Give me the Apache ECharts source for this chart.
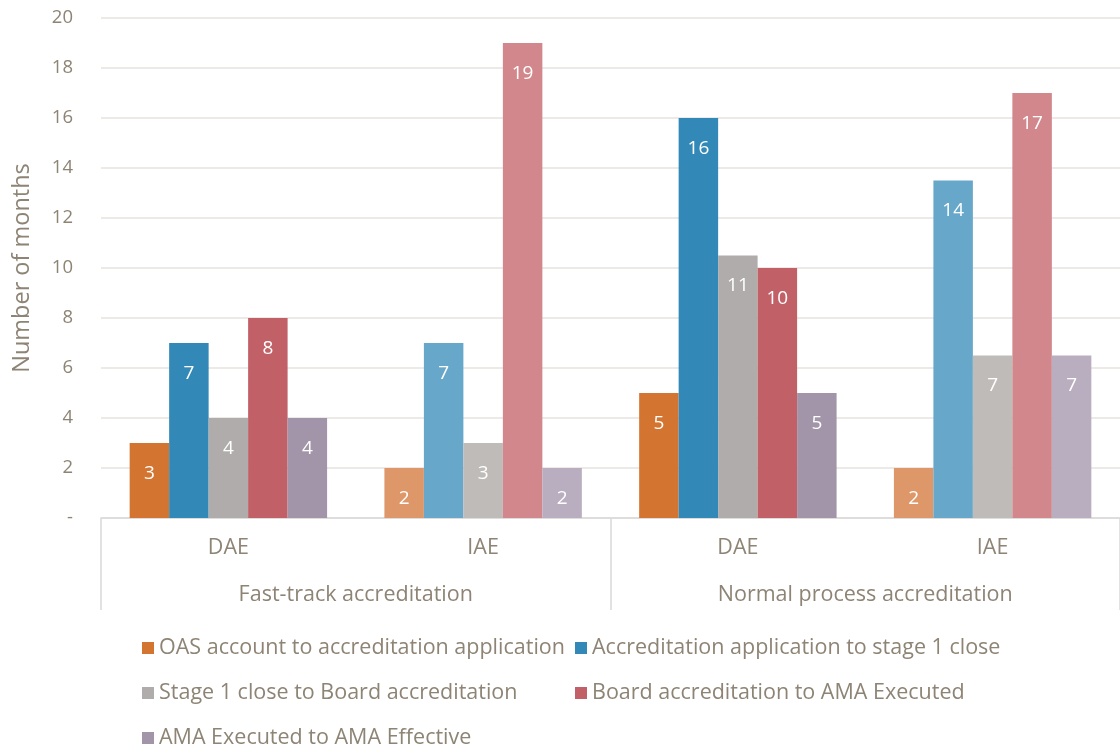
<!DOCTYPE html>
<html>
<head>
<meta charset="utf-8">
<script src="https://cdn.jsdelivr.net/npm/echarts@6/dist/echarts.min.js"></script>
<style>html,body{margin:0;padding:0;background:#fff;}#c{width:1120px;height:747px;}</style>
</head>
<body>
<div id="c"></div>
<script>
const groups = ['Fast-track accreditation', 'Normal process accreditation'];
const categories = ['DAE', 'IAE', 'DAE', 'IAE'];
const seriesNames = [
  'OAS account to accreditation application',
  'Accreditation application to stage 1 close',
  'Stage 1 close to Board accreditation',
  'Board accreditation to AMA Executed',
  'AMA Executed to AMA Effective'
];
const oasToApplication = [3, 2, 5, 2];
const applicationToStage1 = [7, 7, 16, 13.5];
const stage1ToBoard = [4, 3, 10.5, 6.5];
const boardToAmaExecuted = [8, 19, 10, 17];
const amaExecutedToEffective = [4, 2, 5, 6.5];
const yTicks = ['-', '2', '4', '6', '8', '10', '12', '14', '16', '18', '20'];

const seriesValues = [oasToApplication, applicationToStage1, stage1ToBoard, boardToAmaExecuted, amaExecutedToEffective];
const daeColors = ['#D37530', '#3288B7', '#AFACAB', '#C26068', '#A295A9'];
const iaeColors = ['#DE9769', '#67A7C9', '#BFBBB9', '#D1878B', '#B9AEBF'];
const textColor = '#8E8475';
const fontFamily = '"Open Sans", Lato, sans-serif';

const chart = echarts.init(document.getElementById('c'));
chart.setOption({
  animation: false,
  textStyle: { fontFamily: fontFamily },
  grid: { left: 101, right: 0, top: 18, bottom: 229, containLabel: false, outerBoundsMode: 'none' },
  legend: {
    data: seriesNames,
    left: 137,
    top: 623,
    width: 900,
    itemWidth: 12,
    itemHeight: 12,
    itemGap: 5,
    icon: 'rect',
    textStyle: { color: textColor, fontSize: 21.5, fontFamily: fontFamily, width: 411, lineHeight: 40, overflow: 'none' }
  },
  xAxis: [
    {
      type: 'category',
      data: categories,
      position: 'bottom',
      axisLine: { show: true, lineStyle: { color: '#D9D9D9', width: 1.5 } },
      axisTick: { show: false },
      axisLabel: { color: textColor, fontSize: 21.5, margin: 19, fontFamily: fontFamily }
    },
    {
      type: 'category',
      data: groups,
      position: 'bottom',
      axisLine: { show: false },
      axisTick: { show: true, length: 92, interval: 0, lineStyle: { color: '#D9D9D9', width: 1.5 } },
      axisLabel: { color: textColor, fontSize: 21.5, margin: 66, interval: 0, fontFamily: fontFamily }
    }
  ],
  yAxis: {
    type: 'value',
    min: 0,
    max: 20,
    interval: 2,
    name: 'Number of months',
    nameLocation: 'middle',
    nameGap: 67,
    nameTextStyle: { color: textColor, fontSize: 23.5, fontFamily: fontFamily },
    axisLine: { show: false },
    axisTick: { show: false },
    axisLabel: {
      color: textColor, fontSize: 18.5, margin: 28, fontFamily: fontFamily,
      formatter: function (v) { return yTicks[Math.round(v / 2)]; }
    },
    splitLine: { lineStyle: { color: '#E6E2DF', width: 1.5 } }
  },
  series: seriesValues.map(function (vals, si) {
    return {
      name: seriesNames[si],
      type: 'bar',
      xAxisIndex: 0,
      barGap: '0%',
      barCategoryGap: '22.5%',
      itemStyle: { color: daeColors[si] },
      label: {
        show: true,
        position: 'insideTop',
        distance: 21,
        color: '#FFFFFF',
        fontSize: 19,
        fontFamily: fontFamily,
        formatter: function (p) { return String(Math.round(p.value)); }
      },
      data: vals.map(function (v, ci) {
        return { value: v, itemStyle: { color: categories[ci] === 'IAE' ? iaeColors[si] : daeColors[si] } };
      })
    };
  })
});
</script>
</body>
</html>
